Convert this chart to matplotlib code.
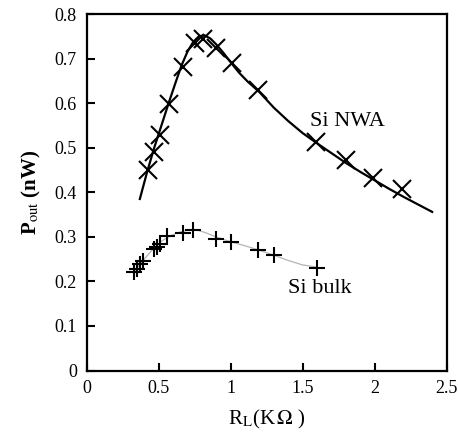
import matplotlib
matplotlib.use("Agg")
import matplotlib.pyplot as plt

# Datos
# Si NWA (marcadores x)
nwa_x = [0.43, 0.47, 0.51, 0.57, 0.67, 0.75, 0.81, 0.90, 1.01, 1.19, 1.59, 1.80, 1.99, 2.19]
nwa_y = [0.449, 0.490, 0.528, 0.597, 0.681, 0.734, 0.743, 0.723, 0.689, 0.629, 0.513, 0.472, 0.433, 0.408]
# curva de ajuste Si NWA
nwa_fit_x = [0.37, 0.42, 0.47, 0.52, 0.57, 0.62, 0.66, 0.70, 0.74, 0.78, 0.82, 0.86, 0.90, 0.95,
             1.00, 1.06, 1.12, 1.20, 1.30, 1.40, 1.50, 1.60, 1.70, 1.80, 1.90, 2.00, 2.10, 2.20, 2.30, 2.40]
nwa_fit_y = [0.385, 0.445, 0.500, 0.550, 0.600, 0.648, 0.685, 0.715, 0.737, 0.750, 0.752, 0.745, 0.732, 0.713,
             0.692, 0.668, 0.648, 0.625, 0.590, 0.560, 0.533, 0.510, 0.488, 0.466, 0.446, 0.427, 0.408, 0.390, 0.373, 0.356]

# Si bulk (marcadores +)
bulk_x = [0.33, 0.35, 0.37, 0.39, 0.47, 0.49, 0.51, 0.56, 0.67, 0.74, 0.90, 1.00, 1.19, 1.30, 1.60]
bulk_y = [0.222, 0.228, 0.238, 0.245, 0.272, 0.278, 0.283, 0.302, 0.308, 0.315, 0.296, 0.289, 0.270, 0.259, 0.230]
bulk_fit_x = [0.33, 0.40, 0.46, 0.52, 0.58, 0.64, 0.70, 0.76, 0.82, 0.90, 1.00, 1.10, 1.20, 1.30, 1.40, 1.50, 1.60]
bulk_fit_y = [0.222, 0.250, 0.272, 0.290, 0.302, 0.310, 0.315, 0.316, 0.310, 0.300, 0.289, 0.280, 0.270, 0.259, 0.247, 0.237, 0.232]

x_ticks = [0, 0.5, 1, 1.5, 2, 2.5]
x_tick_labels = ["0", "0.5", "1", "1.5", "2", "2.5"]
y_ticks = [0, 0.1, 0.2, 0.3, 0.4, 0.5, 0.6, 0.7, 0.8]
y_tick_labels = ["0", "0.1", "0.2", "0.3", "0.4", "0.5", "0.6", "0.7", "0.8"]

plt.rcParams["font.family"] = ["Liberation Serif", "DejaVu Serif"]
plt.rcParams["mathtext.fontset"] = "stix"


def generar_grafica():
    fig = plt.figure(figsize=(4.58, 4.38), dpi=100)
    ax = fig.add_axes([0.189, 0.154, 0.786, 0.814])

    # curvas
    ax.plot(nwa_fit_x, nwa_fit_y, color="black", linewidth=1.6)
    ax.plot(bulk_fit_x, bulk_fit_y, color="#b4b4b4", linewidth=0.9)

    # marcadores
    ax.plot(nwa_x, nwa_y, linestyle="none", marker="x", markersize=13,
            markeredgewidth=1.5, color="black")
    ax.plot(bulk_x, bulk_y, linestyle="none", marker="+", markersize=11,
            markeredgewidth=1.5, color="black")

    # etiquetas de las series
    ax.text(1.81, 0.558, "Si NWA", fontsize=16, ha="center", va="center")
    ax.text(1.62, 0.185, "Si bulk", fontsize=16, ha="center", va="center")

    ax.set_xlim(0, 2.5)
    ax.set_ylim(0, 0.8)
    ax.set_xticks(x_ticks)
    ax.set_xticklabels(x_tick_labels)
    ax.set_yticks(y_ticks)
    ax.set_yticklabels(y_tick_labels)
    ax.tick_params(direction="in", length=6, width=1.5, labelsize=13, pad=7,
                   top=False, right=False)

    for s in ax.spines.values():
        s.set_linewidth(1.6)

    ax.set_xlabel(r"R$_{\rm L}$(K$\,\Omega$ )", fontsize=15, labelpad=8)
    ax.set_ylabel(r"P$_{\rm out}$ (nW)", fontsize=15, fontweight="bold", labelpad=8)

    fig.savefig("out.png", dpi=100)


if __name__ == "__main__":
    generar_grafica()
